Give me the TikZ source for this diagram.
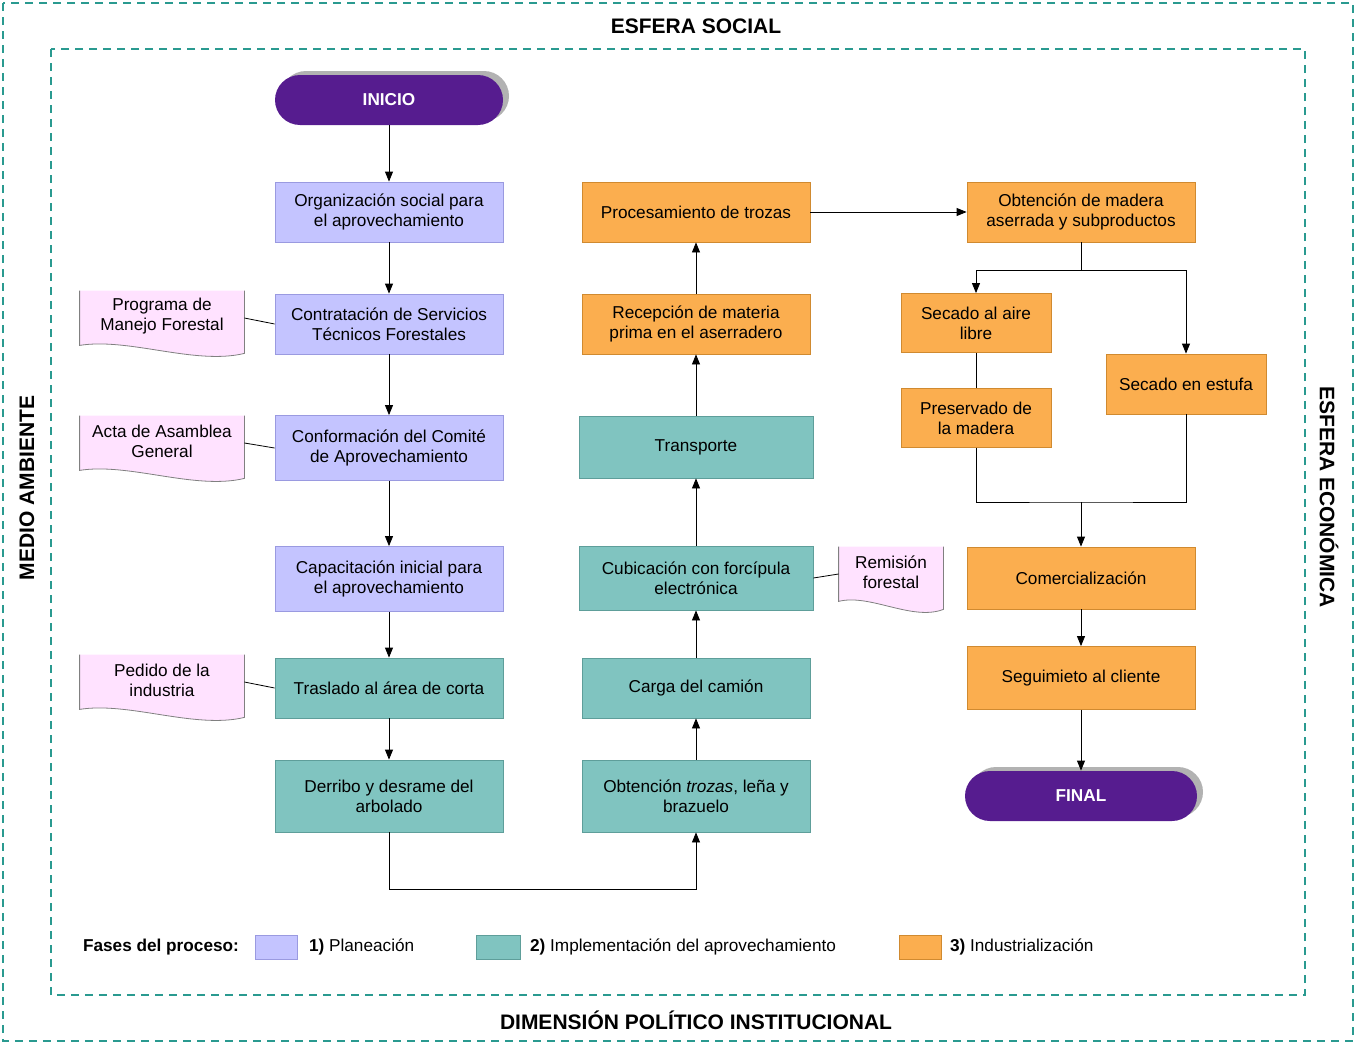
\documentclass[tikz,border=0pt]{standalone}
\usepackage{fontspec}
\setmainfont{Liberation Sans}
\usetikzlibrary{arrows.meta,shadows}
\definecolor{lav}{HTML}{C4C4FF}
\definecolor{lavb}{HTML}{9A9AE0}
\definecolor{teal1}{HTML}{80C4C0}
\definecolor{tealb}{HTML}{5E9E9A}
\definecolor{orng}{HTML}{FBAE4F}
\definecolor{orngb}{HTML}{D08A30}
\definecolor{pinkd}{HTML}{FFE2FF}
\definecolor{purp}{HTML}{561C8F}
\definecolor{frame}{HTML}{2A9A90}
\begin{document}
\begin{tikzpicture}[x=0.5pt,y=-0.5pt,
  font=\fontsize{8.6}{10}\selectfont,
  box/.style={draw, minimum width=114pt, minimum height=30pt, align=center, inner sep=1pt},
  pl/.style={box, fill=lav, draw=lavb},
  im/.style={box, fill=teal1, draw=tealb},
  ind/.style={box, fill=orng, draw=orngb},
  term/.style={rounded corners=12.5pt, fill=purp, text=white, font=\fontsize{8.6}{10}\selectfont\bfseries, minimum width=114pt, minimum height=25pt, drop shadow={shadow xshift=3pt, shadow yshift=2pt, fill=gray!60, opacity=1}},
  doc/.style={minimum width=82pt, minimum height=31pt, align=center, inner sep=1pt},
  arr/.style={-{Triangle[length=5pt,width=4pt]}},
  fr/.style={draw=frame, line width=1pt, dash pattern=on 4pt off 3pt}]
\useasboundingbox (0,0) rectangle (1356,1044);
\draw[fr] (3,3) rectangle (1353,1041);
\draw[fr] (51,49) rectangle (1305,995);
\node[font=\fontsize{10.5}{12}\selectfont\bfseries] (t1) at (696,26) {ESFERA SOCIAL};
\node[font=\fontsize{10.5}{12}\selectfont\bfseries] (t2) at (696,1020) {DIMENSIÓN POLÍTICO INSTITUCIONAL};
\node[font=\fontsize{10.5}{12}\selectfont\bfseries, rotate=90] (t3) at (27,488) {MEDIO AMBIENTE};
\node[font=\fontsize{10.5}{12}\selectfont\bfseries, rotate=-90] (t4) at (1329,497) {ESFERA ECONÓMICA};

\node[term] (ini) at (389,100) {INICIO};
\node[pl] (org) at (389,212) {Organización social para\\el aprovechamiento};
\node[pl] (con) at (389,324) {Contratación de Servicios\\Técnicos Forestales};
\node[pl, minimum height=32.5pt] (cnf) at (389,448) {Conformación del Comité\\de Aprovechamiento};
\node[pl, minimum height=32.5pt] (cap) at (389,579) {Capacitación inicial para\\el aprovechamiento};
\node[im] (tra) at (389,688) {Traslado al área de corta};
\node[im, minimum height=36pt] (der) at (389,796) {Derribo y desrame del\\arbolado};
\node[im, minimum height=36pt] (obt) at (696,796) {Obtención \textit{trozas}, leña y\\brazuelo};
\node[im] (car) at (696,688) {Carga del camión};
\node[im, minimum width=117pt, minimum height=32pt] (cub) at (696,578) {Cubicación con forcípula\\electrónica};
\node[im, minimum width=117pt, minimum height=31pt] (trn) at (696,447) {Transporte};
\node[ind] (rec) at (696,324) {Recepción de materia\\prima en el aserradero};
\node[ind] (pro) at (696,212) {Procesamiento de trozas};
\node[ind] (mad) at (1081,212) {Obtención de madera\\aserrada y subproductos};
\node[ind, minimum width=75pt, minimum height=29.5pt] (sai) at (976,323) {Secado al aire\\libre};
\node[ind, minimum width=75pt, minimum height=29.5pt] (pre) at (976,418) {Preservado de\\la madera};
\node[ind, minimum width=80pt] (est) at (1186,384) {Secado en estufa};
\node[ind, minimum height=31pt] (com) at (1081,578) {Comercialización};
\node[ind, minimum height=31.5pt] (seg) at (1081,678) {Seguimieto al cliente};
\node[term, minimum width=116pt] (fin) at (1081,796) {FINAL};

\foreach \nm/\px/\py/\w/\txt in {pg/162/318/82/{Programa de\\Manejo Forestal},ac/162/443/82/{Acta de Asamblea\\General},pe/162/682/82/{Pedido de la\\industria},rm/891/574/52/{Remisión\\forestal}}{
  \node[doc, minimum width=\w pt, minimum height=27pt] (\nm) at (\px,\py) {};
  \fill[pinkd] (\nm.north west) -- (\nm.north east) -- ([yshift=-4pt]\nm.south east)
     .. controls ([xshift=-0.3*\w pt,yshift=-10pt]\nm.south east) and ([xshift=0.3*\w pt,yshift=4pt]\nm.south west) .. (\nm.south west) -- cycle;
  \draw[black!50] (\nm.north east) -- ([yshift=-4pt]\nm.south east)
     .. controls ([xshift=-0.3*\w pt,yshift=-10pt]\nm.south east) and ([xshift=0.3*\w pt,yshift=4pt]\nm.south west) .. (\nm.south west) -- (\nm.north west);
  \node[align=center] at ([yshift=1pt]\nm.center) {\txt};
}

\draw[arr] (ini) -- (org);
\draw[arr] (org) -- (con);
\draw[arr] (con) -- (cnf);
\draw[arr] (cnf) -- (cap);
\draw[arr] (cap) -- (tra);
\draw[arr] (tra) -- (der);
\draw[arr] (der.south) -- ++(0,57) -| (obt.south);
\draw[arr] (obt) -- (car);
\draw[arr] (car) -- (cub);
\draw[arr] (cub) -- (trn);
\draw[arr] (trn) -- (rec);
\draw[arr] (rec) -- (pro);
\draw[arr] (pro) -- (mad);
\coordinate (sp) at (1081,270);
\draw (mad.south) -- (sp);
\draw[arr] (sp) -| (sai.north);
\draw[arr] (sp) -| (est.north);
\draw (sai) -- (pre);
\coordinate (jn) at (1081,502);
\draw (pre.south) |- (jn) -| (est.south);
\draw[arr] (jn) -- (com);
\draw[arr] (com) -- (seg);
\draw[arr] (seg) -- (fin);
\draw (pg.east) -- (con.west);
\draw (ac.east) -- (cnf.west);
\draw (pe.east) -- (tra.west);
\draw (cub.east) -- (rm.west);

\node[anchor=west, font=\fontsize{8.6}{10}\selectfont\bfseries] (lg) at (76,947) {Fases del proceso:};
\node[fill=lav, draw=lavb, minimum width=21pt, minimum height=12pt, inner sep=0pt] (l1) at (276,947) {};
\node[anchor=west] (l1t) at (302,947) {\textbf{1)} Planeación};
\node[fill=teal1, draw=tealb, minimum width=22pt, minimum height=12pt, inner sep=0pt] (l2) at (498,947) {};
\node[anchor=west] (l2t) at (523,947) {\textbf{2)} Implementación del aprovechamiento};
\node[fill=orng, draw=orngb, minimum width=21pt, minimum height=12pt, inner sep=0pt] (l3) at (920,947) {};
\node[anchor=west] (l3t) at (943,947) {\textbf{3)} Industrialización};
\end{tikzpicture}
\end{document}
